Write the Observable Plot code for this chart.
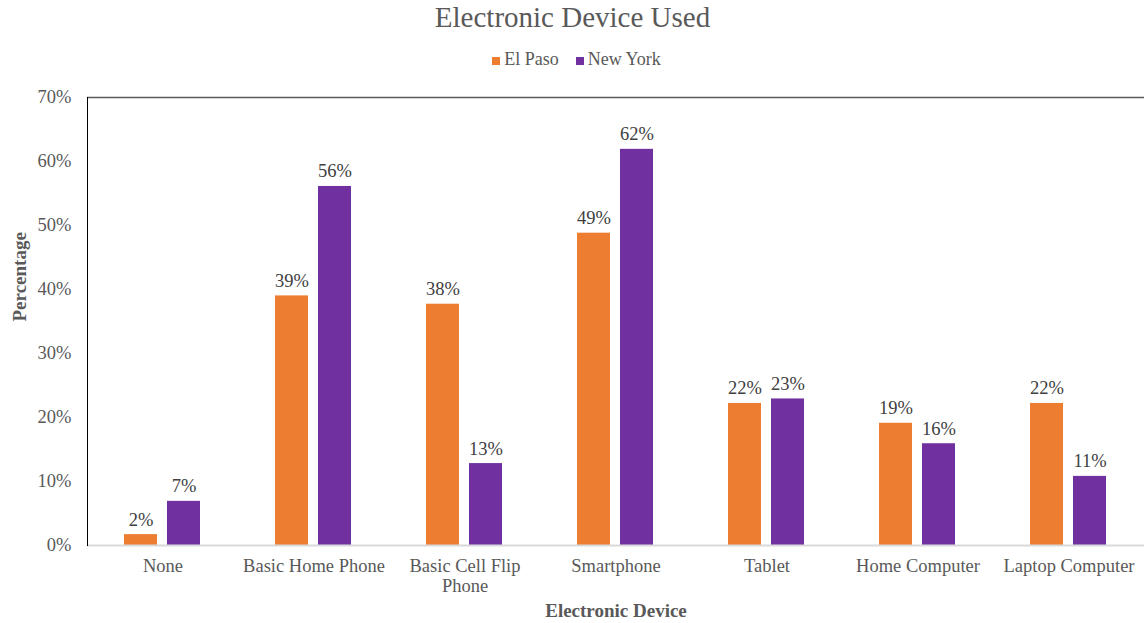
<!DOCTYPE html>
<html><head><meta charset="utf-8">
<script src="https://cdn.jsdelivr.net/npm/d3@7"></script>
<script src="https://cdn.jsdelivr.net/npm/@observablehq/plot@0.6"></script>
<style>
body{margin:0;background:#fff;font-family:"Liberation Serif","Times New Roman",serif;color:#595959;}
#title{height:34px;line-height:34px;text-align:center;font-size:29px;}
#legend{height:50px;display:flex;justify-content:center;align-items:center;gap:17px;font-size:18px;padding-left:8px;}
.sw{display:inline-block;width:8px;height:8px;margin-right:4px;}
</style></head><body>
<div id="title">Electronic Device Used</div>
<div id="legend"></div>
<div id="chart"></div>
<script>
const devices = ["None", "Basic Home Phone", "Basic Cell Flip Phone", "Smartphone", "Tablet", "Home Computer", "Laptop Computer"];
const deviceLabels = ["None", "Basic Home Phone", "Basic Cell Flip\nPhone", "Smartphone", "Tablet", "Home Computer", "Laptop Computer"];
const cities = ["El Paso", "New York"];
const elPaso = [1.7, 39.0, 37.7, 48.8, 22.2, 19.1, 22.2];
const newYork = [6.9, 56.1, 12.8, 61.9, 22.9, 15.9, 10.8];
const colors = ["#ED7D31", "#7030A0"];
const yTicks = [0, 10, 20, 30, 40, 50, 60, 70];
const titleText = "Electronic Device Used";
const xTitle = "Electronic Device";
const yTitle = "Percentage";

document.getElementById("title").textContent = titleText;
const legend = document.getElementById("legend");
cities.forEach((c, i) => {
  const s = document.createElement("span");
  s.innerHTML = `<span class="sw" style="background:${colors[i]}"></span>${c}`;
  legend.appendChild(s);
});

const data = [];
devices.forEach((d, i) => {
  data.push({device: d, city: cities[0], value: elPaso[i]});
  data.push({device: d, city: cities[1], value: newYork[i]});
});
const labelOf = new Map(devices.map((d, i) => [d, deviceLabels[i]]));

const chart = Plot.plot({
  width: 1145, height: 539,
  marginTop: 13, marginBottom: 78, marginLeft: 85, marginRight: 0,
  style: {fontFamily: "'Liberation Serif', 'Times New Roman', serif", fontSize: "18px", color: "#595959", background: "white"},
  fx: {domain: devices, padding: 0, label: null, axis: null},
  x: {domain: cities, paddingInner: 0.227, paddingOuter: 0.834, axis: null},
  y: {domain: [0, 70], label: null},
  color: {domain: cities, range: colors},
  marks: [
    Plot.barY(data, {fx: "device", x: "city", y: "value", fill: "city"}),
    Plot.text(data, {fx: "device", x: "city", y: "value", text: d => Math.round(d.value) + "%", lineAnchor: "bottom", dy: -9, fill: "#404040", fontSize: 18.5}),
    Plot.ruleY([0], {stroke: "#d9d9d9", strokeWidth: 2}),
    Plot.ruleY([70], {stroke: "#595959", strokeWidth: 1.5}),
    Plot.frame({anchor: "left", fx: ["None"], stroke: "black"}),
    Plot.axisY({ticks: yTicks, tickSize: 0, tickPadding: 16, tickFormat: d => d + "%", label: null, fontSize: 18.5}),
    Plot.axisFx({anchor: "bottom", tickSize: 0, tickPadding: 13, tickFormat: d => labelOf.get(d), label: null, fontSize: 18.5, lineHeight: 1.05}),
    Plot.text([{t: yTitle, d: devices[0]}], {fx: "d", text: "t", frameAnchor: "left", rotate: -90, dx: -68, fontWeight: "bold", fontSize: 19, fill: "#595959"}),
    Plot.text([{t: xTitle, d: devices[3]}], {fx: "d", text: "t", frameAnchor: "bottom", dy: 71, fontWeight: "bold", fontSize: 19, fill: "#595959"})
  ]
});
document.getElementById("chart").appendChild(chart);
</script>
</body></html>
